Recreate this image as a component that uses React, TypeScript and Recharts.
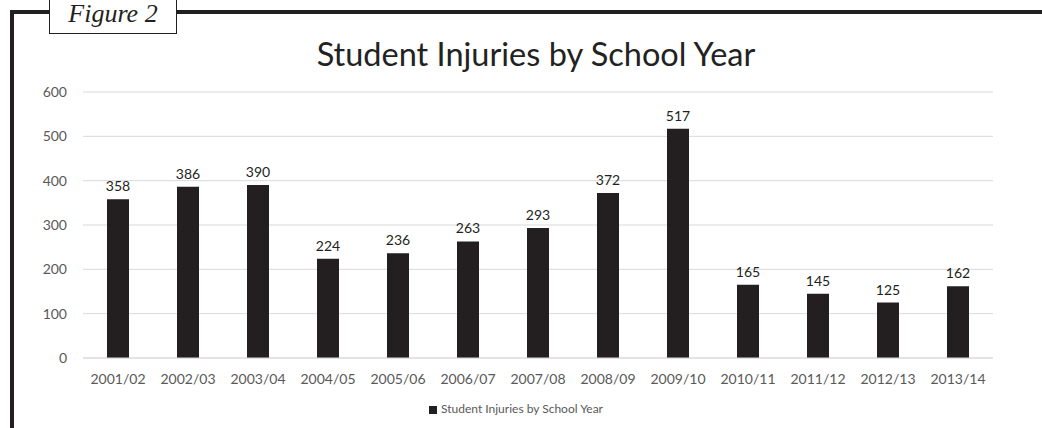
import React from "react";
import { BarChart, Bar, XAxis, YAxis, CartesianGrid, Legend, LabelList } from "recharts";

const categories = ["2001/02", "2002/03", "2003/04", "2004/05", "2005/06", "2006/07", "2007/08", "2008/09", "2009/10", "2010/11", "2011/12", "2012/13", "2013/14"];
const injuries = [358, 386, 390, 224, 236, 263, 293, 372, 517, 165, 145, 125, 162];
const yTicks = [0, 100, 200, 300, 400, 500, 600];
const seriesName = "Student Injuries by School Year";
const title = "Student Injuries by School Year";
const figureLabel = "Figure 2";

const data = categories.map((c, i) => ({ year: c, value: injuries[i] }));

const FONT = "Lato, 'Open Sans', sans-serif";

export default function App() {
  return (
    <div style={{ position: "fixed", left: 0, top: 0, width: 1042, height: 428, background: "#fff", overflow: "hidden" }}>
      <div style={{ position: "absolute", left: 10, top: 10, width: 1040, height: 4, background: "#231f20" }} />
      <div style={{ position: "absolute", left: 10, top: 10, width: 4, height: 430, background: "#231f20" }} />
      <div
        style={{
          position: "absolute",
          left: 49,
          top: -2,
          width: 128,
          height: 36,
          background: "#fff",
          border: "1px solid #231f20",
          boxSizing: "border-box",
        }}
      />
      <div
        style={{
          position: "absolute",
          left: 49,
          top: 1,
          width: 128,
          textAlign: "center",
          fontFamily: "'Liberation Serif', 'DejaVu Serif', serif",
          fontStyle: "italic",
          fontSize: 26,
          lineHeight: "26px",
          color: "#231f20",
        }}
      >
        {figureLabel}
      </div>
      <div
        style={{
          position: "absolute",
          left: 0,
          top: 38,
          width: 1072,
          textAlign: "center",
          fontFamily: FONT,
          fontSize: 32.5,
          color: "#222",
          lineHeight: "32px",
          whiteSpace: "nowrap",
        }}
      >
        {title}
      </div>
      <div style={{ position: "absolute", left: 0, top: 0 }}>
        <BarChart width={1042} height={428} data={data} margin={{ top: 92, right: 49, left: 0, bottom: 40 }}>
          <CartesianGrid vertical={false} stroke="#d9d9d9" />
          <XAxis
            dataKey="year"
            height={30}
            axisLine={{ stroke: "#d9d9d9" }}
            tickLine={false}
            tick={{ fill: "#595959", fontFamily: FONT, fontSize: 14 }}
            tickMargin={10}
            interval={0}
          />
          <YAxis
            width={83}
            domain={[0, 600]}
            ticks={yTicks}
            axisLine={false}
            tickLine={false}
            tick={{ fill: "#595959", fontFamily: FONT, fontSize: 14 }}
            tickMargin={10}
          />
          <Legend
            verticalAlign="middle"
            align="center"
            iconType="square"
            iconSize={8}
            wrapperStyle={{ top: 401, left: 0, width: 1042, fontFamily: FONT, fontSize: 12 }}
            formatter={(v: string) => <span style={{ color: "#595959" }}>{v}</span>}
          />
          <Bar dataKey="value" name={seriesName} fill="#231f20" barSize={22} isAnimationActive={false}>
            <LabelList dataKey="value" position="top" offset={8} fill="#231f20" fontFamily={FONT} fontSize={14} />
          </Bar>
        </BarChart>
      </div>
    </div>
  );
}
